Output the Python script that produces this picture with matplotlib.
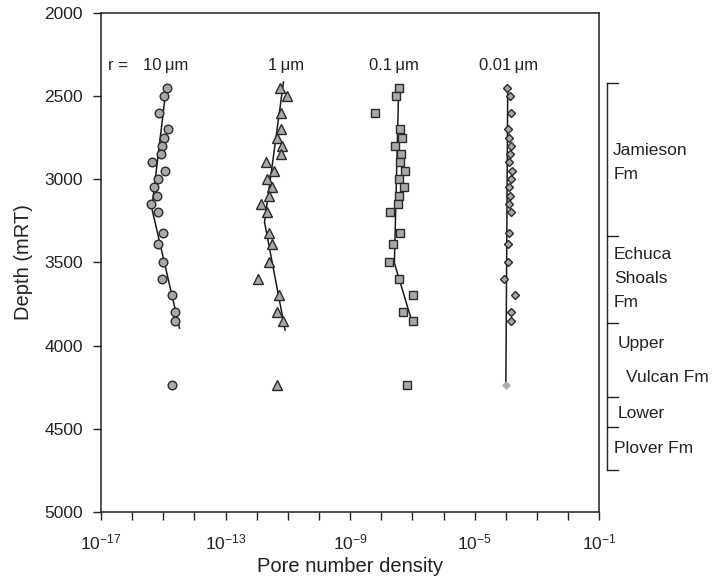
import matplotlib
matplotlib.use("Agg")
import matplotlib.pyplot as plt
import matplotlib.transforms as mtransforms
import numpy as np

plt.rcParams['font.family'] = ['Liberation Sans', 'DejaVu Sans']
plt.rcParams['mathtext.fontset'] = 'custom'
plt.rcParams['mathtext.rm'] = 'Liberation Sans'
plt.rcParams['mathtext.it'] = 'Liberation Sans'
plt.rcParams['mathtext.default'] = 'regular'

# ---- data ----
depth = [2450, 2500, 2600, 2700, 2750, 2800, 2850, 2900, 2950, 3000, 3050,
         3100, 3150, 3200, 3325, 3390, 3500, 3600, 3695, 3800, 3850, 4235]

log_r10 = [-14.87, -14.98, -15.14, -14.86, -14.98, -15.05, -15.07, -15.36, -14.94, -15.17, -15.30,
           -15.20, -15.39, -15.17, -15.00, -15.16, -15.02, -15.05, -14.73, -14.62, -14.63, -14.73]
log_r1 = [-11.26, -11.02, -11.23, -11.22, -11.34, -11.20, -11.21, -11.71, -11.45, -11.68, -11.52,
          -11.60, -11.86, -11.68, -11.61, -11.51, -11.61, -11.97, -11.28, -11.36, -11.16, -11.35]
log_r01 = [-7.44, -7.53, -8.20, -7.40, -7.34, -7.55, -7.38, -7.41, -7.24, -7.44, -7.28,
           -7.43, -7.47, -7.73, -7.39, -7.64, -7.75, -7.44, -6.98, -7.31, -6.98, -7.18]
log_r001 = [-3.97, -3.88, -3.85, -3.92, -3.91, -3.84, -3.86, -3.90, -3.80, -3.85, -3.91,
            -3.87, -3.89, -3.85, -3.89, -3.93, -3.92, -4.06, -3.70, -3.85, -3.85, -4.00]

# trend lines (log value, depth)
trend_r10_x = [-14.90, -15.37, -14.48]
trend_r10_y = [2440, 3174, 3895]
trend_r1_x = [-11.14, -11.75, -11.09]
trend_r1_y = [2416, 3258, 3907]
trend_r01_x = [-7.44, -7.58, -7.03]
trend_r01_y = [2444, 3504, 3847]
trend_r001_x = [-3.94, -4.00]
trend_r001_y = [2445, 4233]

series_labels = ["10\u2009\u03bcm", "1\u2009\u03bcm", "0.1\u2009\u03bcm", "0.01\u2009\u03bcm"]
series_label_x = [-14.93, -11.05, -7.58, -3.92]

formations = ["Jamieson\nFm", "Echuca\nShoals\nFm", "Upper", "Vulcan Fm", "Lower", "Plover Fm"]
bracket_depths = [2421, 3340, 3867, 4311, 4488, 4748]

xticks_exp = list(range(-17, 0))
xlabel_exp = [-17, -13, -9, -5, -1]

# ---- figure ----
fig = plt.figure(figsize=(7.12, 5.86), dpi=100)
ax = fig.add_axes([0.1419, 0.1263, 0.6998, 0.852])

edge = '#2a2a2a'
fill = '#a8a8a8'
lc = '#1a1a1a'

def p10(v):
    return [10.0 ** a for a in v]

# trend lines
ax.plot(p10(trend_r10_x), trend_r10_y, color=lc, lw=1.1, zorder=2)
ax.plot(p10(trend_r1_x), trend_r1_y, color=lc, lw=1.1, zorder=2)
ax.plot(p10(trend_r01_x), trend_r01_y, color=lc, lw=1.1, zorder=2)
ax.plot(p10(trend_r001_x), trend_r001_y, color=lc, lw=1.1, zorder=2)

ax.plot(p10(log_r10), depth, 'o', ms=6.2, mfc=fill, mec=edge, mew=1.0, ls='none', zorder=3)
ax.plot(p10(log_r1), depth, '^', ms=6.8, mfc=fill, mec=edge, mew=1.0, ls='none', zorder=3)
ax.plot(p10(log_r01), depth, 's', ms=5.2, mfc=fill, mec=edge, mew=1.0, ls='none', zorder=3)
ax.plot(p10(log_r001[:-1]), depth[:-1], 'D', ms=4.2, mfc=fill, mec=edge, mew=1.0, ls='none', zorder=3)
ax.plot(p10(log_r001[-1:]), depth[-1:], 'D', ms=4, mfc='#b0b0b0', mec='#b0b0b0', mew=0.5, ls='none', zorder=3)

ax.set_xscale('log')
ax.set_xlim(1e-17, 1e-1)
ax.set_ylim(5000, 2000)
ax.set_yticks(np.arange(2000, 5001, 500))
ax.set_xticks([10.0 ** e for e in xticks_exp])
ax.set_xticklabels([(r'$10^{%d}$' % e if e in xlabel_exp else '') for e in xticks_exp])
ax.xaxis.set_minor_locator(matplotlib.ticker.NullLocator())

ax.tick_params(axis='both', direction='out', length=6, width=1.0, color='#222222',
               labelsize=12.5, labelcolor='#222222')
ax.tick_params(axis='x', pad=9)
ax.tick_params(axis='y', pad=7)
for s in ax.spines.values():
    s.set_linewidth(1.1)
    s.set_color('#222222')

ax.set_xlabel('Pore number density', fontsize=14.5, color='#222222', labelpad=3)
ax.set_ylabel('Depth (mRT)', fontsize=14.5, color='#222222', labelpad=8)

# series labels
ax.text(10 ** -16.45, 2320, 'r =', ha='center', va='center', fontsize=12, color='#222222')
for lab, xx in zip(series_labels, series_label_x):
    ax.text(10 ** xx, 2320, lab, ha='center', va='center', fontsize=12, color='#222222',
            family=['Liberation Sans', 'DejaVu Sans'])

# formation bracket
trans = mtransforms.blended_transform_factory(ax.transAxes, ax.transData)
bx = 1.016
tx = 1.0375
ax.plot([bx, bx], [bracket_depths[0], bracket_depths[-1]], color='#222222', lw=1.0,
        transform=trans, clip_on=False)
for d in bracket_depths:
    ax.plot([bx, tx], [d, d], color='#222222', lw=1.0, transform=trans, clip_on=False)

form_pos = [(1.028, 2900), (1.0295, 3595), (1.037, 3990), (1.0536, 4190), (1.037, 4410), (1.0295, 4620)]
for lab, (fx, fy) in zip(formations, form_pos):
    ax.text(fx, fy, lab, transform=trans, ha='left', va='center', fontsize=12.5,
            color='#222222', linespacing=1.75)

fig.savefig('out.png', dpi=100)
